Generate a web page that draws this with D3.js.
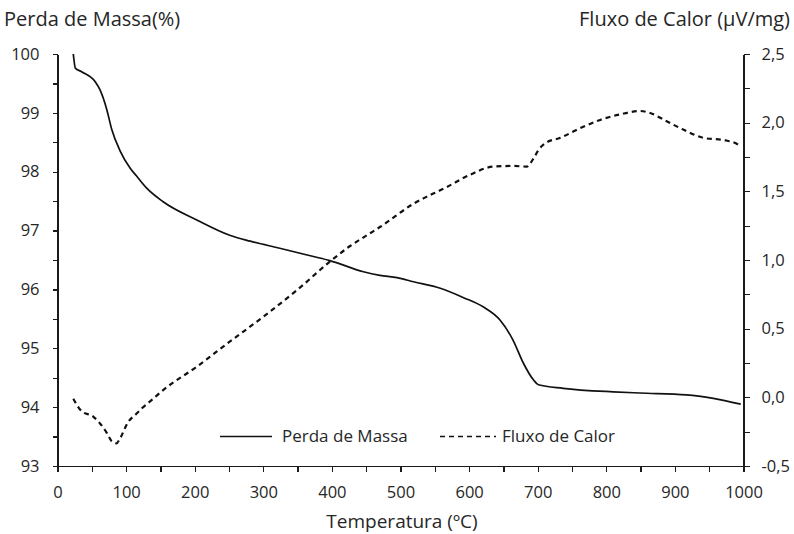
<!DOCTYPE html>
<html>
<head>
<meta charset="utf-8">
<script src="https://cdn.jsdelivr.net/npm/d3@7"></script>
<style>
  html, body { margin: 0; padding: 0; background: #fff; }
  svg { display: block; font-family: "Open Sans", "Noto Sans", sans-serif; }
  .axis path, .axis line { stroke: #1a1a1a; stroke-width: 1.3; shape-rendering: crispEdges; }
  .axis text { fill: #262626; font-size: 16.5px; font-family: "Open Sans", sans-serif; }
</style>
</head>
<body>
<svg id="chart" width="794" height="534"></svg>
<script>
// Thermogravimetric curve: mass (%) vs temperature (°C)
const massTemp = [23, 24, 26, 35, 55, 62, 72, 79, 91, 106, 115, 130, 154, 203, 251, 281, 324, 373, 397, 446, 470, 495, 519, 558, 592, 621, 645, 664, 679, 694, 701, 737, 810, 849, 917, 956, 996];
const massValue = [100.0, 99.9, 99.76, 99.70, 99.53, 99.39, 99.05, 98.72, 98.36, 98.06, 97.93, 97.72, 97.49, 97.18, 96.92, 96.82, 96.70, 96.56, 96.49, 96.30, 96.24, 96.20, 96.13, 96.02, 95.86, 95.70, 95.48, 95.14, 94.75, 94.46, 94.38, 94.32, 94.26, 94.24, 94.21, 94.15, 94.05];

// DSC curve: heat flow (µV/mg) vs temperature (°C)
const heatTemp = [23, 35, 52, 62, 72, 79, 86, 91, 103, 115, 123, 135, 154, 203, 251, 300, 349, 397, 426, 451, 470, 519, 567, 601, 635, 664, 684, 694, 701, 711, 733, 762, 791, 820, 849, 864, 888, 912, 941, 975, 992, 996];
const heatValue = [-0.01, -0.10, -0.14, -0.19, -0.26, -0.32, -0.335, -0.30, -0.18, -0.12, -0.08, -0.03, 0.053, 0.223, 0.405, 0.587, 0.78, 0.988, 1.10, 1.18, 1.24, 1.41, 1.53, 1.62, 1.68, 1.685, 1.68, 1.74, 1.80, 1.85, 1.89, 1.96, 2.02, 2.06, 2.085, 2.07, 2.01, 1.95, 1.89, 1.87, 1.84, 1.82];

// Axis ticks
const xTicks = [0, 100, 200, 300, 400, 500, 600, 700, 800, 900, 1000];
const massTicks = [93, 94, 95, 96, 97, 98, 99, 100];
const heatTicks = [-0.5, 0, 0.5, 1.0, 1.5, 2.0, 2.5];

const labels = {
  massTitle: "Perda de Massa(%)",
  heatTitle: "Fluxo de Calor (µV/mg)",
  xTitle: "Temperatura (ºC)",
  massLegend: "Perda de Massa",
  heatLegend: "Fluxo de Calor"
};

const svg = d3.select("#chart");
const plotLeft = 57.5, plotRight = 743.5, plotTop = 54, plotBottom = 466;

const x = d3.scaleLinear().domain([0, 1000]).range([plotLeft, plotRight]);
const yMass = d3.scaleLinear().domain([93, 100]).range([plotBottom, plotTop]);
const yHeat = d3.scaleLinear().domain([-0.5, 2.5]).range([plotBottom, plotTop]);

const comma = v => d3.format(".1f")(v).replace(".", ",").replace("\u2212", "-");

// Left axis: labelled every 1 %, minor tick every 0,5 %
svg.append("g").attr("class", "axis").attr("transform", `translate(${plotLeft},0)`)
  .call(d3.axisLeft(yMass).tickValues(d3.range(93, 100.01, 0.5)).tickSizeInner(5).tickSizeOuter(0).tickPadding(13)
    .tickFormat(d => massTicks.includes(d) ? String(d) : ""));

// Right axis: labelled every 0,5, minor tick every 0,25
svg.append("g").attr("class", "axis").attr("transform", `translate(${plotRight},0)`)
  .call(d3.axisRight(yHeat).tickValues(d3.range(-0.5, 2.51, 0.25)).tickSizeInner(6).tickSizeOuter(0).tickPadding(12)
    .tickFormat(d => heatTicks.some(t => Math.abs(t - d) < 1e-9) ? comma(d) : ""));

// Bottom axis: labelled every 100, minor tick every 50
svg.append("g").attr("class", "axis").attr("transform", `translate(0,${plotBottom})`)
  .call(d3.axisBottom(x).tickValues(d3.range(0, 1001, 50)).tickSizeInner(6).tickSizeOuter(0).tickPadding(14)
    .tickFormat(d => xTicks.includes(d) ? String(d) : ""));

// Curves
const massLine = d3.line().x((d, i) => x(massTemp[i])).y(d => yMass(d)).curve(d3.curveMonotoneX);
const heatLine = d3.line().x((d, i) => x(heatTemp[i])).y(d => yHeat(d)).curve(d3.curveMonotoneX);

svg.append("path").datum(massValue).attr("d", massLine)
  .attr("fill", "none").attr("stroke", "#111").attr("stroke-width", 1.7);
svg.append("path").datum(heatValue).attr("d", heatLine)
  .attr("fill", "none").attr("stroke", "#111").attr("stroke-width", 2.2).attr("stroke-dasharray", "5,4");

// Titles
const textColor = "#262626";
svg.append("text").attr("x", 4).attr("y", 26).attr("font-size", 20).attr("fill", textColor).text(labels.massTitle);
svg.append("text").attr("x", 790).attr("y", 26).attr("text-anchor", "end").attr("font-size", 20).attr("fill", textColor).text(labels.heatTitle);
svg.append("text").attr("x", 402).attr("y", 528).attr("text-anchor", "middle").attr("font-size", 19).attr("fill", textColor).text(labels.xTitle);

// Legend
const lg = svg.append("g");
lg.append("line").attr("x1", 220).attr("x2", 272).attr("y1", 436.5).attr("y2", 436.5).attr("stroke", "#111").attr("stroke-width", 1.7);
lg.append("text").attr("x", 282).attr("y", 442).attr("font-size", 17).attr("fill", textColor).text(labels.massLegend);
lg.append("line").attr("x1", 440).attr("x2", 496).attr("y1", 436.5).attr("y2", 436.5).attr("stroke", "#111").attr("stroke-width", 1.6).attr("stroke-dasharray", "5,4");
lg.append("text").attr("x", 502).attr("y", 442).attr("font-size", 17).attr("fill", textColor).text(labels.heatLegend);
</script>
</body>
</html>
